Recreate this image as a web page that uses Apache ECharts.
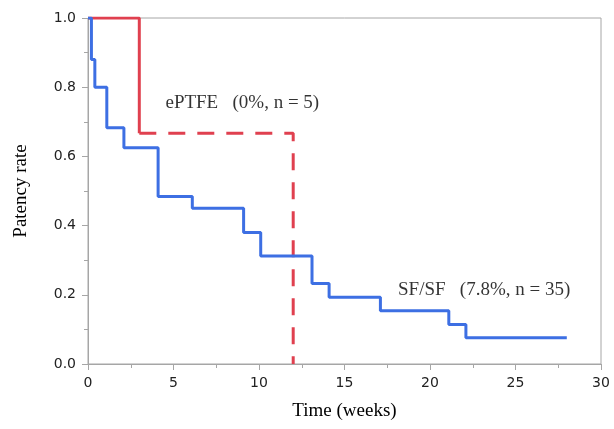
<!DOCTYPE html>
<html>
<head>
<meta charset="utf-8">
<script src="https://cdn.jsdelivr.net/npm/echarts@6/dist/echarts.min.js"></script>
<style>
  html, body { margin: 0; padding: 0; background: #fff; }
  #chart { width: 614px; height: 429px; }
</style>
</head>
<body>
<div id="chart"></div>
<script>
// SF/SF group, Kaplan-Meier steps (weeks, patency rate)
var sfTimes = [0, 0.2, 0.4, 1.1, 2.1, 4.1, 6.1, 9.1, 10.1, 13.1, 14.1, 17.1, 21.1, 22.1, 28];
var sfRates = [1, 0.88, 0.80, 0.683, 0.625, 0.484, 0.45, 0.38, 0.312, 0.233, 0.193, 0.154, 0.114, 0.076, 0.076];
// ePTFE group: solid part then dashed part
var eptfeTimes = [0, 3, 12];
var eptfeRates = [1, 0.667, 0];
// annotation anchors
var labelTexts = ['ePTFE   (0%, n = 5)', 'SF/SF   (7.8%, n = 35)'];
var labelTimes = [4.5, 18.1];
var labelRates = [0.754, 0.214];

function pairs(xs, ys) {
    var out = [];
    for (var i = 0; i < xs.length; i++) {
        out.push([xs[i], ys[i]]);
    }
    return out;
}

var eptfe = pairs(eptfeTimes, eptfeRates);
var axisGray = '#a6a6a6';
var serif = '"Liberation Serif", "DejaVu Serif", serif';

var notes = [];
for (var i = 0; i < labelTexts.length; i++) {
    notes.push({ value: [labelTimes[i], labelRates[i]], name: labelTexts[i] });
}

var chart = echarts.init(document.getElementById('chart'));
chart.setOption({
    animation: false,
    grid: {
        left: 88, right: 13, top: 18, bottom: 65,
        show: true, borderColor: axisGray, borderWidth: 1
    },
    xAxis: {
        type: 'value', min: 0, max: 30, interval: 5,
        name: 'Time (weeks)', nameLocation: 'middle', nameGap: 38,
        nameTextStyle: { fontFamily: serif, fontSize: 19, color: '#000' },
        axisLine: { lineStyle: { color: axisGray } },
        axisTick: { show: true, length: 6, lineStyle: { color: axisGray } },
        minorTick: { show: true, splitNumber: 2, length: 4, lineStyle: { color: axisGray } },
        splitLine: { show: false },
        axisLabel: { fontFamily: 'DejaVu Sans', fontSize: 14, color: '#222', margin: 12 }
    },
    yAxis: {
        type: 'value', min: 0, max: 1, interval: 0.2,
        name: 'Patency rate', nameLocation: 'middle', nameGap: 57,
        nameTextStyle: { fontFamily: serif, fontSize: 19, color: '#000' },
        axisLine: { show: true, lineStyle: { color: axisGray } },
        axisTick: { show: true, length: 6, lineStyle: { color: axisGray } },
        minorTick: { show: true, splitNumber: 2, length: 4, lineStyle: { color: axisGray } },
        splitLine: { show: false },
        axisLabel: {
            fontFamily: 'DejaVu Sans', fontSize: 14, color: '#222', margin: 12,
            formatter: function(v) { return v.toFixed(1); }
        }
    },
    series: [
        {
            type: 'line', step: 'end', symbol: 'none',
            data: [eptfe[0], eptfe[1]],
            lineStyle: { color: '#e0404f', width: 3 }
        },
        {
            type: 'line', step: 'end', symbol: 'none',
            data: [eptfe[1], eptfe[2]],
            lineStyle: { color: '#e0404f', width: 3, type: [17, 12] }
        },
        {
            type: 'line', step: 'end', symbol: 'none',
            data: pairs(sfTimes, sfRates),
            lineStyle: { color: '#3d6fe3', width: 3 }
        },
        {
            type: 'scatter', silent: true,
            symbol: 'rect', symbolSize: 1,
            itemStyle: { color: 'rgba(0,0,0,0)' },
            data: notes,
            label: {
                show: true,
                position: 'right',
                distance: 0,
                formatter: function(p) { return p.name; },
                color: '#000',
                fontFamily: serif,
                fontSize: 19
            }
        }
    ]
});
</script>
</body>
</html>
